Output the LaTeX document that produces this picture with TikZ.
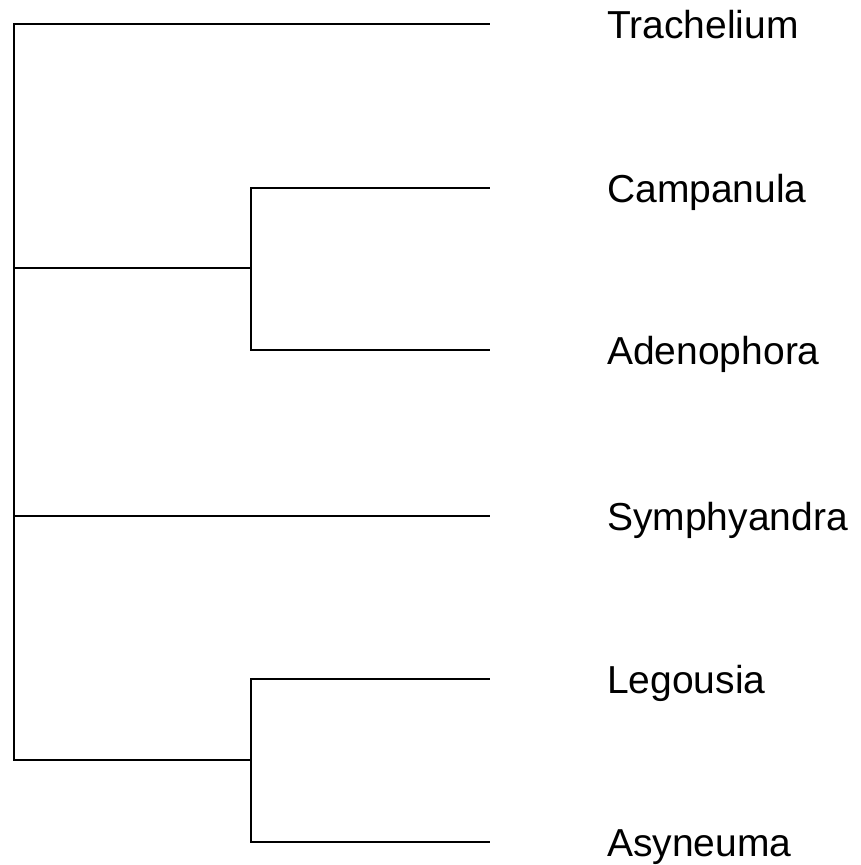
\documentclass[tikz,border=0pt]{standalone}
\usepackage{fontspec}
\setmainfont{Liberation Sans}
\begin{document}
\begin{tikzpicture}[x=1pt,y=-1pt,
  branch/.style={line width=1.5pt,line cap=rect,line join=miter},
  taxon/.style={anchor=base west,inner sep=0pt,font=\fontsize{39}{44}\selectfont}]
\useasboundingbox (0,0) rectangle (860,865);
% internal nodes
\coordinate (r1) at (14,24);
\coordinate (r2) at (14,268);
\coordinate (r3) at (14,516);
\coordinate (r4) at (14,760);
\coordinate (n1) at (251,268);
\coordinate (n1t) at (251,188);
\coordinate (n1b) at (251,350);
\coordinate (n2) at (251,760);
\coordinate (n2t) at (251,679);
\coordinate (n2b) at (251,842);
% leaf tips
\coordinate (l1) at (489,24);
\coordinate (l2) at (489,188);
\coordinate (l3) at (489,350);
\coordinate (l4) at (489,516);
\coordinate (l5) at (489,679);
\coordinate (l6) at (489,842);
% labels
\node[taxon] (t1) at (607,24+14) {Trachelium};
\node[taxon] (t2) at (607,188+14) {Campanula};
\node[taxon] (t3) at (607,350+14) {Adenophora};
\node[taxon] (t4) at (607,516+14) {Symphyandra};
\node[taxon] (t5) at (607,679+14) {Legousia};
\node[taxon] (t6) at (607,842+14) {Asyneuma};
% branches
\draw[branch] (l1) -- (r1) -- (r4) -- (n2);
\draw[branch] (r2) -- (n1);
\draw[branch] (r3) -- (l4);
\draw[branch] (l2) -- (n1t) -- (n1b) -- (l3);
\draw[branch] (l5) -- (n2t) -- (n2b) -- (l6);
\end{tikzpicture}
\end{document}
